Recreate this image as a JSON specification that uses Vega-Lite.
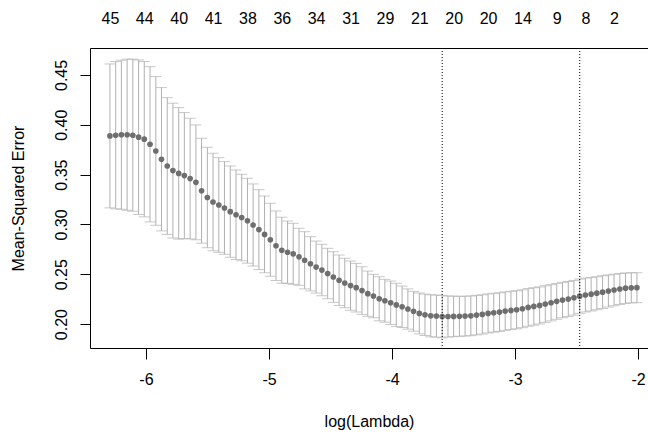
{
  "$schema": "https://vega.github.io/schema/vega-lite/v6.json",
  "width": 558,
  "height": 300,
  "autosize": {"type": "none"},
  "padding": {"left": 90, "top": 48, "right": 0, "bottom": 86},
  "background": "white",
  "config": {
    "view": {"stroke": null},
    "font": "Liberation Sans",
    "axis": {
      "labelFont": "Liberation Sans",
      "titleFont": "Liberation Sans",
      "labelFontSize": 16,
      "titleFontSize": 16,
      "labelColor": "black",
      "titleColor": "black",
      "titleFontWeight": "normal",
      "domainColor": "black",
      "tickColor": "black",
      "grid": false
    }
  },
  "datasets": {
    "cv": [
      {"x": -6.293, "m": 0.3888, "sd": 0.0722},
      {"x": -6.246, "m": 0.3895, "sd": 0.0739},
      {"x": -6.200, "m": 0.3900, "sd": 0.0748},
      {"x": -6.153, "m": 0.3900, "sd": 0.0758},
      {"x": -6.107, "m": 0.3895, "sd": 0.0763},
      {"x": -6.060, "m": 0.3875, "sd": 0.0775},
      {"x": -6.014, "m": 0.3855, "sd": 0.0779},
      {"x": -5.967, "m": 0.3804, "sd": 0.0779},
      {"x": -5.920, "m": 0.3737, "sd": 0.0746},
      {"x": -5.874, "m": 0.3654, "sd": 0.0719},
      {"x": -5.827, "m": 0.3586, "sd": 0.0686},
      {"x": -5.781, "m": 0.3540, "sd": 0.0676},
      {"x": -5.734, "m": 0.3512, "sd": 0.0660},
      {"x": -5.688, "m": 0.3490, "sd": 0.0632},
      {"x": -5.641, "m": 0.3460, "sd": 0.0605},
      {"x": -5.594, "m": 0.3422, "sd": 0.0576},
      {"x": -5.548, "m": 0.3338, "sd": 0.0526},
      {"x": -5.501, "m": 0.3270, "sd": 0.0504},
      {"x": -5.455, "m": 0.3225, "sd": 0.0489},
      {"x": -5.408, "m": 0.3195, "sd": 0.0475},
      {"x": -5.362, "m": 0.3165, "sd": 0.0465},
      {"x": -5.315, "m": 0.3128, "sd": 0.0458},
      {"x": -5.268, "m": 0.3097, "sd": 0.0449},
      {"x": -5.222, "m": 0.3069, "sd": 0.0434},
      {"x": -5.175, "m": 0.3037, "sd": 0.0426},
      {"x": -5.129, "m": 0.2994, "sd": 0.0412},
      {"x": -5.082, "m": 0.2948, "sd": 0.0401},
      {"x": -5.036, "m": 0.2900, "sd": 0.0385},
      {"x": -4.989, "m": 0.2846, "sd": 0.0366},
      {"x": -4.943, "m": 0.2786, "sd": 0.0349},
      {"x": -4.896, "m": 0.2741, "sd": 0.0331},
      {"x": -4.849, "m": 0.2721, "sd": 0.0313},
      {"x": -4.803, "m": 0.2705, "sd": 0.0306},
      {"x": -4.756, "m": 0.2675, "sd": 0.0286},
      {"x": -4.710, "m": 0.2640, "sd": 0.0287},
      {"x": -4.663, "m": 0.2605, "sd": 0.0272},
      {"x": -4.617, "m": 0.2572, "sd": 0.0261},
      {"x": -4.570, "m": 0.2542, "sd": 0.0258},
      {"x": -4.523, "m": 0.2507, "sd": 0.0253},
      {"x": -4.477, "m": 0.2472, "sd": 0.0254},
      {"x": -4.430, "m": 0.2440, "sd": 0.0253},
      {"x": -4.384, "m": 0.2412, "sd": 0.0248},
      {"x": -4.337, "m": 0.2386, "sd": 0.0247},
      {"x": -4.291, "m": 0.2365, "sd": 0.0244},
      {"x": -4.244, "m": 0.2336, "sd": 0.0239},
      {"x": -4.197, "m": 0.2305, "sd": 0.0227},
      {"x": -4.151, "m": 0.2281, "sd": 0.0218},
      {"x": -4.104, "m": 0.2254, "sd": 0.0221},
      {"x": -4.058, "m": 0.2234, "sd": 0.0215},
      {"x": -4.011, "m": 0.2214, "sd": 0.0218},
      {"x": -3.965, "m": 0.2192, "sd": 0.0217},
      {"x": -3.918, "m": 0.2174, "sd": 0.0208},
      {"x": -3.871, "m": 0.2151, "sd": 0.0202},
      {"x": -3.825, "m": 0.2128, "sd": 0.0200},
      {"x": -3.778, "m": 0.2107, "sd": 0.0205},
      {"x": -3.732, "m": 0.2093, "sd": 0.0208},
      {"x": -3.685, "m": 0.2083, "sd": 0.0211},
      {"x": -3.639, "m": 0.2080, "sd": 0.0211},
      {"x": -3.592, "m": 0.2075, "sd": 0.0213},
      {"x": -3.545, "m": 0.2076, "sd": 0.0205},
      {"x": -3.499, "m": 0.2077, "sd": 0.0204},
      {"x": -3.452, "m": 0.2078, "sd": 0.0200},
      {"x": -3.406, "m": 0.2080, "sd": 0.0200},
      {"x": -3.359, "m": 0.2083, "sd": 0.0199},
      {"x": -3.313, "m": 0.2090, "sd": 0.0198},
      {"x": -3.266, "m": 0.2097, "sd": 0.0197},
      {"x": -3.219, "m": 0.2107, "sd": 0.0196},
      {"x": -3.173, "m": 0.2114, "sd": 0.0195},
      {"x": -3.126, "m": 0.2120, "sd": 0.0194},
      {"x": -3.080, "m": 0.2130, "sd": 0.0193},
      {"x": -3.033, "m": 0.2137, "sd": 0.0192},
      {"x": -2.987, "m": 0.2144, "sd": 0.0191},
      {"x": -2.940, "m": 0.2154, "sd": 0.0190},
      {"x": -2.893, "m": 0.2167, "sd": 0.0189},
      {"x": -2.847, "m": 0.2177, "sd": 0.0188},
      {"x": -2.800, "m": 0.2187, "sd": 0.0186},
      {"x": -2.754, "m": 0.2201, "sd": 0.0184},
      {"x": -2.707, "m": 0.2214, "sd": 0.0182},
      {"x": -2.661, "m": 0.2228, "sd": 0.0180},
      {"x": -2.614, "m": 0.2241, "sd": 0.0178},
      {"x": -2.567, "m": 0.2251, "sd": 0.0176},
      {"x": -2.521, "m": 0.2264, "sd": 0.0174},
      {"x": -2.474, "m": 0.2280, "sd": 0.0172},
      {"x": -2.428, "m": 0.2292, "sd": 0.0170},
      {"x": -2.381, "m": 0.2300, "sd": 0.0168},
      {"x": -2.335, "m": 0.2310, "sd": 0.0166},
      {"x": -2.288, "m": 0.2320, "sd": 0.0164},
      {"x": -2.241, "m": 0.2332, "sd": 0.0161},
      {"x": -2.195, "m": 0.2342, "sd": 0.0158},
      {"x": -2.148, "m": 0.2352, "sd": 0.0155},
      {"x": -2.102, "m": 0.2360, "sd": 0.0153},
      {"x": -2.055, "m": 0.2364, "sd": 0.0151},
      {"x": -2.009, "m": 0.2365, "sd": 0.0150}
    ],
    "vl": [{"x": -3.592}, {"x": -2.474}]
  },
  "layer": [
    {
      "data": {"name": "cv"},
      "mark": {
        "type": "errorbar",
        "ticks": {"size": 11, "thickness": 1, "color": "#B0B0B0"},
        "rule": {"color": "#B0B0B0", "strokeWidth": 1}
      },
      "encoding": {
        "x": {
          "field": "x", "type": "quantitative",
          "scale": {"domain": [-6.455, -1.919], "nice": false, "zero": false},
          "axis": {
            "orient": "bottom",
            "values": [-6, -5, -4, -3, -2],
            "labelExpr": "'' + datum.value",
            "tickSize": 11,
            "labelPadding": 12,
            "labelFlush": false,
            "title": "log(Lambda)",
            "titlePadding": 26
          }
        },
        "y": {
          "field": "m", "type": "quantitative",
          "scale": {"domain": [0.176, 0.477], "nice": false, "zero": false},
          "axis": {
            "values": [0.2, 0.25, 0.3, 0.35, 0.4, 0.45],
            "format": ".2f",
            "labelAngle": -90,
            "labelAlign": "center",
            "labelBaseline": "bottom",
            "tickSize": 10,
            "labelPadding": 11,
            "title": "Mean-Squared Error",
            "titlePadding": 27
          }
        },
        "yError": {"field": "sd"}
      }
    },
    {
      "data": {"name": "cv"},
      "mark": {"type": "circle", "size": 32, "color": "#6E6E6E", "opacity": 1},
      "encoding": {
        "x": {"field": "x", "type": "quantitative", "axis": null},
        "y": {"field": "m", "type": "quantitative"}
      }
    },
    {
      "data": {"name": "vl"},
      "mark": {"type": "rule", "color": "black", "strokeDash": [1, 2], "strokeWidth": 1},
      "encoding": {
        "x": {
          "field": "x", "type": "quantitative",
          "axis": {
            "orient": "top",
            "values": [-6.293, -6.014, -5.734, -5.455, -5.175, -4.896, -4.617, -4.337, -4.058, -3.778, -3.499, -3.219, -2.94, -2.661, -2.428, -2.195],
            "labelExpr": "['45','44','40','41','38','36','34','31','29','21','20','20','14','9','8','2'][indexof([-6.293, -6.014, -5.734, -5.455, -5.175, -4.896, -4.617, -4.337, -4.058, -3.778, -3.499, -3.219, -2.94, -2.661, -2.428, -2.195], datum.value)]",
            "ticks": false,
            "domain": true,
            "labelPadding": 22,
            "labelOverlap": false,
            "labelFlush": false,
            "labelBound": false,
            "title": null
          }
        }
      }
    }
  ],
  "resolve": {"axis": {"x": "independent"}}
}
